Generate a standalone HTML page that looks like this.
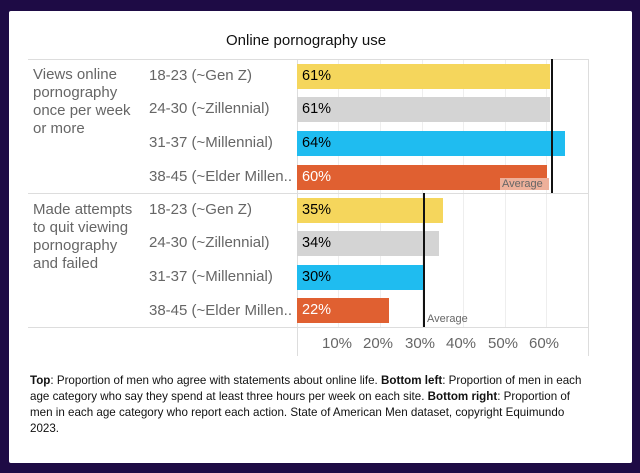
<!DOCTYPE html>
<html><head><style>
body{margin:0;width:640px;height:473px;background:#1e0b45;font-family:"Liberation Sans",Arial,sans-serif;position:relative;overflow:hidden}
.p{position:absolute;left:9px;top:11px;width:623px;height:452px;background:#fff;border-radius:2px}
.a{position:absolute}
.t{position:absolute;font-size:15px;color:#666;line-height:18px;white-space:nowrap}
.bar{position:absolute;left:297px;height:25px}
.v{position:absolute;left:5px;top:3px;font-size:14.5px;line-height:19px}
.g{position:absolute;width:1px;background:#eee;top:59px;height:268px}
.ax{position:absolute;top:335px;font-size:15px;color:#666}
.f{position:absolute;left:30px;top:373px;width:556px;font-size:11.6px;line-height:16px;color:#111}
</style></head><body>
<div class="p"></div>
<div class="a" style="left:226px;top:32px;font-size:15px;color:#111">Online pornography use</div>
<div class="g" style="left:338px"></div><div class="g" style="left:380px"></div><div class="g" style="left:422px"></div><div class="g" style="left:463px"></div><div class="g" style="left:505px"></div><div class="g" style="left:546px"></div>
<div class="a" style="left:28px;top:59px;width:561px;height:1px;background:#ddd"></div>
<div class="a" style="left:28px;top:193px;width:561px;height:1px;background:#ddd"></div>
<div class="a" style="left:28px;top:327px;width:561px;height:1px;background:#ddd"></div>
<div class="a" style="left:297px;top:59px;width:1px;height:297px;background:#ddd"></div>
<div class="a" style="left:588px;top:59px;width:1px;height:297px;background:#ddd"></div>
<div class="t" style="left:33px;top:66px">Views online<br>pornography<br>once per week<br>or more</div>
<div class="t" style="left:33px;top:201px">Made attempts<br>to quit viewing<br>pornography<br>and failed</div>
<div class="t" style="left:149px;top:67px">18-23 (~Gen Z)</div>
<div class="t" style="left:149px;top:100px">24-30 (~Zillennial)</div>
<div class="t" style="left:149px;top:134px">31-37 (~Millennial)</div>
<div class="t" style="left:149px;top:168px">38-45 (~Elder Millen..</div>
<div class="t" style="left:149px;top:201px">18-23 (~Gen Z)</div>
<div class="t" style="left:149px;top:234px">24-30 (~Zillennial)</div>
<div class="t" style="left:149px;top:268px">31-37 (~Millennial)</div>
<div class="t" style="left:149px;top:302px">38-45 (~Elder Millen..</div>
<div class="bar" style="top:64px;width:253px;background:#f5d65c"><span class="v">61%</span></div>
<div class="bar" style="top:97px;width:253px;background:#d4d4d4"><span class="v">61%</span></div>
<div class="bar" style="top:131px;width:268px;background:#1fbcf0"><span class="v">64%</span></div>
<div class="bar" style="top:165px;width:250px;background:#e06031"><span class="v" style="color:#fff">60%</span></div>
<div class="a" style="left:500px;top:178px;width:47px;height:12px;background:#eeb09a;font-size:11px;color:#666;line-height:12px;padding-left:2px">Average</div>
<div class="a" style="left:551px;top:59px;width:2px;height:134px;background:#111"></div>
<div class="bar" style="top:198px;width:146px;background:#f5d65c"><span class="v">35%</span></div>
<div class="bar" style="top:231px;width:142px;background:#d4d4d4"><span class="v">34%</span></div>
<div class="bar" style="top:265px;width:126px;background:#1fbcf0"><span class="v">30%</span></div>
<div class="bar" style="top:298px;width:92px;background:#e06031"><span class="v" style="color:#fff">22%</span></div>
<div class="a" style="left:423px;top:193px;width:2px;height:134px;background:#111"></div>
<div class="a" style="left:427px;top:313px;font-size:11px;color:#666">Average</div>
<div class="ax" style="left:322px">10%</div><div class="ax" style="left:363px">20%</div><div class="ax" style="left:405px">30%</div><div class="ax" style="left:446px">40%</div><div class="ax" style="left:488px">50%</div><div class="ax" style="left:529px">60%</div>
<div class="f"><b>Top</b>: Proportion of men who agree with statements about online life. <b>Bottom left</b>: Proportion of men in each age category who say they spend at least three hours per week on each site. <b>Bottom right</b>: Proportion of men in each age category who report each action. State of American Men dataset, copyright Equimundo 2023.</div>
</body></html>
